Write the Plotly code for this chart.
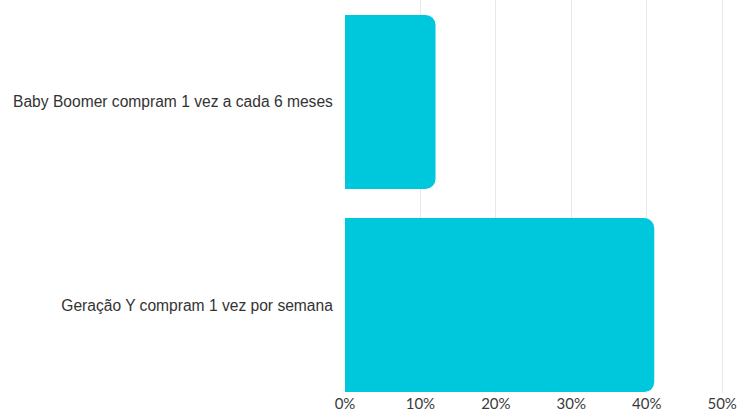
import plotly.graph_objects as go

# Share of each group by purchase frequency (%)
categories = ["Baby Boomer compram 1 vez a cada 6 meses", "Geração Y compram 1 vez por semana"]
values = [12, 41]
tick_vals = [0, 10, 20, 30, 40, 50]
tick_text = ["0%", "10%", "20%", "30%", "40%", "50%"]

fig = go.Figure(
    go.Bar(
        x=values,
        y=categories,
        orientation="h",
        marker=dict(color="#00C8DC", line=dict(width=0)),
        width=0.857,
        hoverinfo="skip",
    )
)

fig.update_layout(
    width=738,
    height=414,
    margin=dict(l=345, r=0, t=0, b=21),
    paper_bgcolor="white",
    plot_bgcolor="white",
    barcornerradius=10,
    showlegend=False,
    xaxis=dict(
        range=[0, 52.1],
        tickvals=tick_vals,
        ticktext=tick_text,
        showgrid=True,
        gridcolor="#e8e8e8",
        gridwidth=1,
        zeroline=False,
        showline=False,
        ticks="",
        automargin=False,
        tickfont=dict(family="Lato, Arial, sans-serif", size=15, color="#3a3a3a"),
    ),
    yaxis=dict(
        type="category",
        range=[1.433, -0.502],
        showgrid=False,
        zeroline=False,
        showline=False,
        ticks="outside",
        ticklen=8,
        tickcolor="rgba(0,0,0,0)",
        automargin=False,
        tickfont=dict(family="Liberation Sans, Arial, sans-serif", size=15.6, color="#333333"),
    ),
)

fig.write_html("out.html")
